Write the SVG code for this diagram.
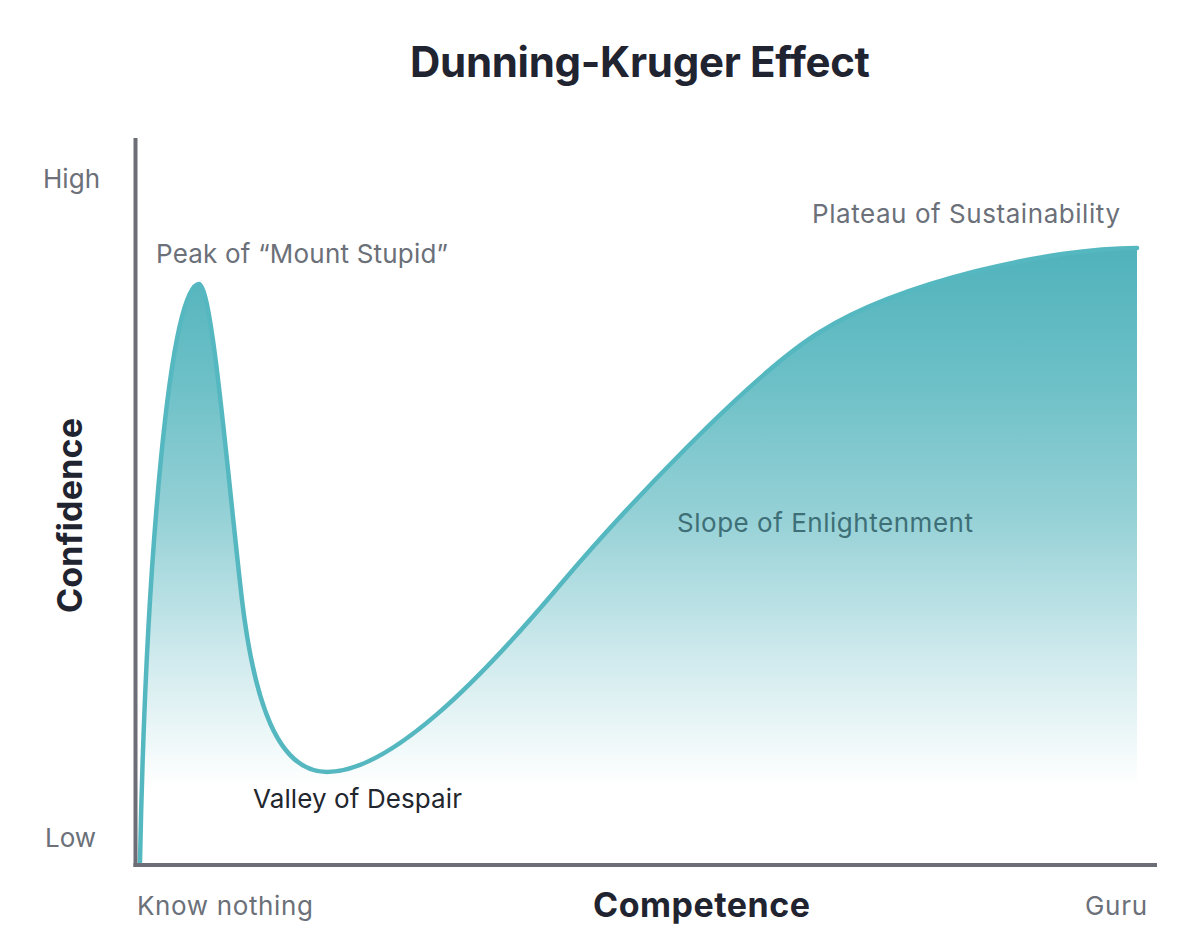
<svg xmlns="http://www.w3.org/2000/svg" width="1200" height="950" viewBox="0 0 1200 950">
  <style>
    text { font-family: Inter, "Liberation Sans", "DejaVu Sans", sans-serif; }
    .title { font-size: 42px; font-weight: 700; fill: #1f2430; }
    .axis-title { font-size: 34px; font-weight: 700; fill: #1f2430; }
    .tick { font-size: 26px; fill: #6b7079; }
    .stage { font-size: 26px; fill: #6b7079; }
    .stage-dark { font-size: 26px; fill: #22262e; }
    .stage-teal { font-size: 26px; fill: #3e6f77; }
    .axis { stroke: #6b6e76; stroke-width: 4; fill: none; }
    .curve { stroke: #55b8c0; stroke-width: 4.5; fill: none; stroke-linejoin: round; stroke-linecap: round; }
  </style>
  <defs>
    <linearGradient id="areaFill" gradientUnits="userSpaceOnUse" x1="0" y1="248" x2="0" y2="785">
      <stop offset="0" stop-color="#50b2bb"/>
      <stop offset="0.25" stop-color="#6dc0c7"/>
      <stop offset="0.5" stop-color="#95d1d6"/>
      <stop offset="0.75" stop-color="#cde9ec"/>
      <stop offset="1" stop-color="#ffffff"/>
    </linearGradient>
  </defs>
  <rect x="0" y="0" width="1200" height="950" fill="#ffffff"/>

  <g id="title">
    <text class="title" x="640" y="77" text-anchor="middle" textLength="460">Dunning-Kruger Effect</text>
  </g>

  <g id="area">
    <path fill="url(#areaFill)" d="M140 862 C146 560 170 284 199 284 C212 284 228 480 242 600 C254 700 277 772 327 772 C390 772 480 680 560 585 C620 514 750 375 820 332 C900 282 1050 248 1137 248 L1137 862 Z"/>
  </g>

  <g id="connectors">
    <path class="curve" d="M140 862 C146 560 170 284 199 284 C212 284 228 480 242 600 C254 700 277 772 327 772 C390 772 480 680 560 585 C620 514 750 375 820 332 C900 282 1050 248 1137 248"/>
  </g>

  <g id="axes">
    <line class="axis" x1="135.5" y1="138" x2="135.5" y2="867"/>
    <line class="axis" x1="133.5" y1="865" x2="1157" y2="865"/>
  </g>

  <g id="y-axis-labels">
    <text class="tick" x="43" y="188" textLength="57">High</text>
    <text class="tick" x="45" y="847" textLength="51">Low</text>
    <text class="axis-title" transform="translate(82 613) rotate(-90)" x="0" y="0" textLength="195">Confidence</text>
  </g>

  <g id="x-axis-labels">
    <text class="tick" x="137" y="915" textLength="176">Know nothing</text>
    <text class="tick" x="1085" y="915" textLength="62">Guru</text>
    <text class="axis-title" x="593" y="917" textLength="217">Competence</text>
  </g>

  <g id="node-peak">
    <text class="stage" x="156" y="263" textLength="292">Peak of “Mount Stupid”</text>
  </g>
  <g id="node-valley">
    <text class="stage-dark" x="253" y="808" textLength="209">Valley of Despair</text>
  </g>
  <g id="node-slope">
    <text class="stage-teal" x="677" y="532" textLength="296">Slope of Enlightenment</text>
  </g>
  <g id="node-plateau">
    <text class="stage" x="812" y="223" textLength="308">Plateau of Sustainability</text>
  </g>
</svg>
